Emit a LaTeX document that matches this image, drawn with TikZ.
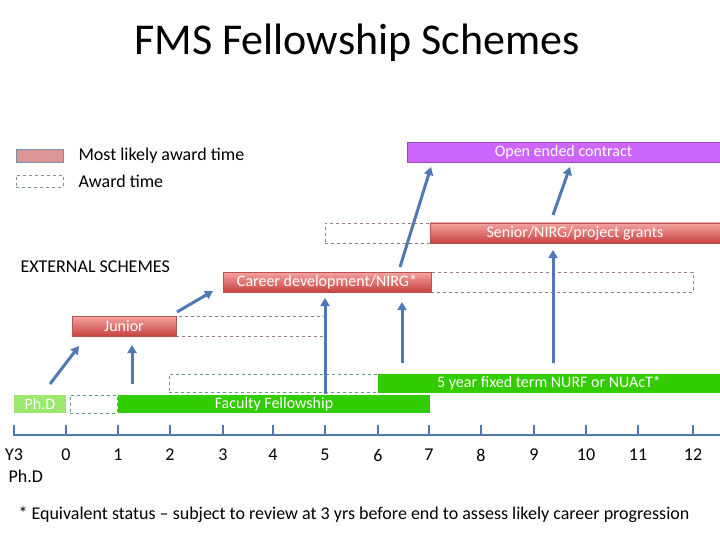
\documentclass[tikz,border=0pt]{standalone}
\usepackage{fontspec}
\setmainfont{Carlito}
\usetikzlibrary{arrows.meta}

\definecolor{redtop}{HTML}{F4A4A2}
\definecolor{redbot}{HTML}{C8423F}
\definecolor{redline}{HTML}{B65350}
\definecolor{gapred}{HTML}{A07A7A}
\definecolor{gapgreen}{HTML}{5A9E8A}
\definecolor{keyline}{HTML}{7890A8}
\definecolor{keypink}{HTML}{DA9594}
\definecolor{openpurple}{HTML}{CC66FF}
\definecolor{fellowgreen}{HTML}{33CC00}
\definecolor{phdgreen}{HTML}{9CE86C}
\definecolor{arrowblue}{HTML}{5079B4}

\begin{document}
\begin{tikzpicture}[x=1pt, y=-1pt,
  box/.style = {anchor=north west, inner sep=0pt, outer sep=0pt, text=white,
                font=\fontsize{16}{18}\selectfont},
  redbar/.style = {box, draw=redline, top color=redtop, bottom color=redbot},
  greenbar/.style = {box, fill=fellowgreen},
  redgap/.style = {box, draw=gapred, dashed, thick},
  greengap/.style = {box, draw=gapgreen, dashed, thick},
  upline/.style = {draw=arrowblue, line width=3pt, -{Triangle[length=8pt,width=9pt]}},
  label/.style = {font=\fontsize{18}{20}\selectfont}]
\useasboundingbox (0,0) rectangle (720,540);

\node [font=\fontsize{44}{48}\selectfont] (title) at (357,43) {FMS Fellowship Schemes};

% key
\node [box, draw=keyline, fill=keypink, minimum width=47pt, minimum height=13pt] (keylikely) at (16,149) {};
\node [box, draw=keyline, dashed, minimum width=47pt, minimum height=12pt] (keyaward) at (16,175) {};
\node [label, anchor=west] (likelytext) at (75,156) {Most likely award time};
\node [label, anchor=west] (awardtext) at (75,181) {Award time};
\node [label, anchor=west] (external) at (17,267) {EXTERNAL SCHEMES};

% external schemes
\node [box, draw=openpurple!75!black, fill=openpurple, minimum width=313pt, minimum height=20pt] (open) at (407,142) {Open ended contract};
\node [redgap, minimum width=105pt, minimum height=20pt] (seniorgap) at (325,223) {};
\node [redbar, minimum width=290pt, minimum height=20pt] (senior) at (430,223) {Senior/NIRG/project grants};
\node [redgap, minimum width=262pt, minimum height=20pt] (careergap) at (431,272) {};
\node [redbar, minimum width=208pt, minimum height=20pt] (career) at (223,272) {Career development/NIRG*};
\node [redgap, minimum width=149pt, minimum height=20pt] (juniorgap) at (176,316) {};
\node [redbar, minimum width=104pt, minimum height=20pt] (junior) at (72,316) {Junior};

% faculty schemes
\node [greengap, minimum width=209pt, minimum height=18pt] (nurfgap) at (169,374) {};
\node [greenbar, minimum width=342pt, minimum height=19pt] (nurf) at (378,374) {5 year fixed term NURF or NUAcT*};
\node [box, fill=phdgreen, minimum width=52pt, minimum height=18pt] (phd) at (14,395) {Ph.D};
\node [greengap, minimum width=47pt, minimum height=18pt] (facultygap) at (70,395) {};
\node [greenbar, minimum width=312pt, minimum height=18pt] (faculty) at (118,395) {Faculty Fellowship};

% arrows
\coordinate (a1) at (50,384);   \coordinate (b1) at (79,346);
\coordinate (a2) at (132,384);  \coordinate (b2) at (132,345);
\coordinate (a3) at (177,312);  \coordinate (b3) at (213,291);
\coordinate (a4) at (325,394);  \coordinate (b4) at (325,298);
\coordinate (a5) at (402,363);  \coordinate (b5) at (402,302);
\coordinate (a6) at (400,267);  \coordinate (b6) at (431,167);
\coordinate (a7) at (553,363);  \coordinate (b7) at (553,250);
\coordinate (a8) at (553,215);  \coordinate (b8) at (570,167);
\foreach \i in {1,...,8}
  \draw [upline] (a\i) -- (b\i);

% time line
\draw [arrowblue, line width=2.5pt] (14,435) -- (720,435);
\foreach \x/\yr in {14/Y3, 66/0, 118/1, 170/2, 223/3, 273/4, 325/5, 378/6, 429/7, 481/8, 534/9, 586/10, 638/11, 693/12}
{
  \draw [arrowblue, line width=2.5pt] (\x,436) -- (\x,425);
  \node [label] (yr\yr) at (\x,455) {\yr};
}
\node [label, anchor=west] (phdyr) at (5,476) {Ph.D};

\node [label, anchor=west] (note) at (15,515) {* Equivalent status -- subject to review at 3 yrs before end to assess likely career progression};
\end{tikzpicture}
\end{document}
